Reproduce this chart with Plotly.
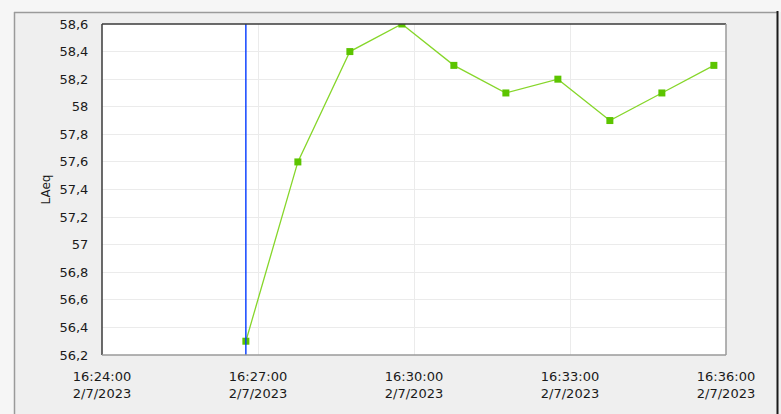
import plotly.graph_objects as go

# LAeq readings, one per minute
times = [
    "2023-02-07 16:26:46", "2023-02-07 16:27:46", "2023-02-07 16:28:46",
    "2023-02-07 16:29:46", "2023-02-07 16:30:46", "2023-02-07 16:31:46",
    "2023-02-07 16:32:46", "2023-02-07 16:33:46", "2023-02-07 16:34:46",
    "2023-02-07 16:35:46",
]
laeq = [56.3, 57.6, 58.4, 58.6, 58.3, 58.1, 58.2, 57.9, 58.1, 58.3]

# axis ticks
x_tick_vals = ["2023-02-07 16:24:00", "2023-02-07 16:27:00", "2023-02-07 16:30:00",
               "2023-02-07 16:33:00", "2023-02-07 16:36:00"]
x_tick_text = ["16:24:00<br>2/7/2023", "16:27:00<br>2/7/2023", "16:30:00<br>2/7/2023",
               "16:33:00<br>2/7/2023", "16:36:00<br>2/7/2023"]
y_tick_vals = [56.2, 56.4, 56.6, 56.8, 57.0, 57.2, 57.4, 57.6, 57.8, 58.0, 58.2, 58.4, 58.6]
y_tick_text = ["56,2", "56,4", "56,6", "56,8", "57", "57,2", "57,4", "57,6", "57,8",
               "58", "58,2", "58,4", "58,6"]

cursor_time = times[0]

FONT = "DejaVu Sans"
GRID = "#ebebeb"

fig = go.Figure()
fig.add_trace(go.Scatter(
    x=times, y=laeq, mode="lines+markers",
    line=dict(color="#86d62a", width=1.3),
    marker=dict(symbol="square", size=7, color="#5cc400"),
    cliponaxis=True, showlegend=False,
))

shapes = [
    # cursor line
    dict(type="line", xref="x", yref="paper", x0=cursor_time, x1=cursor_time,
         y0=0, y1=1, line=dict(color="#0038ff", width=1.4), layer="above"),
    # plot frame: dark top/left, grey bottom/right
    dict(type="line", xref="paper", yref="paper", x0=0, x1=1, y0=1, y1=1,
         line=dict(color="#3a3a3a", width=1.5), layer="above"),
    dict(type="line", xref="paper", yref="paper", x0=0, x1=0, y0=0, y1=1,
         line=dict(color="#3a3a3a", width=1.5), layer="above"),
    dict(type="line", xref="paper", yref="paper", x0=0, x1=1, y0=0, y1=0,
         line=dict(color="#9a9a9a", width=1.5), layer="above"),
    dict(type="line", xref="paper", yref="paper", x0=1, x1=1, y0=0, y1=1,
         line=dict(color="#9a9a9a", width=1.5), layer="above"),
]

# outer panel border, positioned in pixels relative to the plot area
W, H = 781, 414
ml, mr, mt, mb = 102, 55, 24, 59
pw, ph = W - ml - mr, H - mt - mb


def px_x(p):
    return (p - ml) / pw


def px_y(p):
    return (H - mb - p) / ph


shapes += [
    # lighter strips outside the panel
    dict(type="rect", xref="paper", yref="paper",
         x0=px_x(-5), x1=px_x(790), y0=px_y(12), y1=px_y(-5),
         line=dict(width=0), fillcolor="#f6f6f6", layer="below"),
    dict(type="rect", xref="paper", yref="paper",
         x0=px_x(-5), x1=px_x(14), y0=px_y(420), y1=px_y(12),
         line=dict(width=0), fillcolor="#f6f6f6", layer="below"),
    # panel border
    dict(type="line", xref="paper", yref="paper", x0=px_x(14), x1=px_x(777),
         y0=px_y(12.5), y1=px_y(12.5), line=dict(color="#9a9a9a", width=1.5)),
    dict(type="line", xref="paper", yref="paper", x0=px_x(14.5), x1=px_x(14.5),
         y0=px_y(12), y1=px_y(420), line=dict(color="#9a9a9a", width=1.5)),
    dict(type="line", xref="paper", yref="paper", x0=px_x(777.5), x1=px_x(777.5),
         y0=px_y(11), y1=px_y(420), line=dict(color="#1a1a1a", width=2)),
]

fig.update_layout(
    width=W, height=H,
    margin=dict(l=ml, r=mr, t=mt, b=mb, pad=0),
    paper_bgcolor="#efefef",
    plot_bgcolor="white",
    font=dict(family=FONT, size=13, color="#1a1a1a"),
    shapes=shapes,
    xaxis=dict(
        type="date",
        range=["2023-02-07 16:24:00", "2023-02-07 16:36:00"],
        tickvals=x_tick_vals, ticktext=x_tick_text,
        showgrid=True, gridcolor=GRID, gridwidth=1,
        zeroline=False, showline=False,
        ticks="outside", ticklen=9, tickcolor="rgba(0,0,0,0)",
        tickfont=dict(family=FONT, size=13),
    ),
    yaxis=dict(
        range=[56.2, 58.6],
        tickvals=y_tick_vals, ticktext=y_tick_text,
        showgrid=True, gridcolor=GRID, gridwidth=1,
        zeroline=False, showline=False, ticks="outside", ticklen=10,
        tickcolor="rgba(0,0,0,0)",
        tickfont=dict(family=FONT, size=13),
        title=dict(text="LAeq", font=dict(family=FONT, size=12), standoff=6),
    ),
)

fig.write_html("out.html")
